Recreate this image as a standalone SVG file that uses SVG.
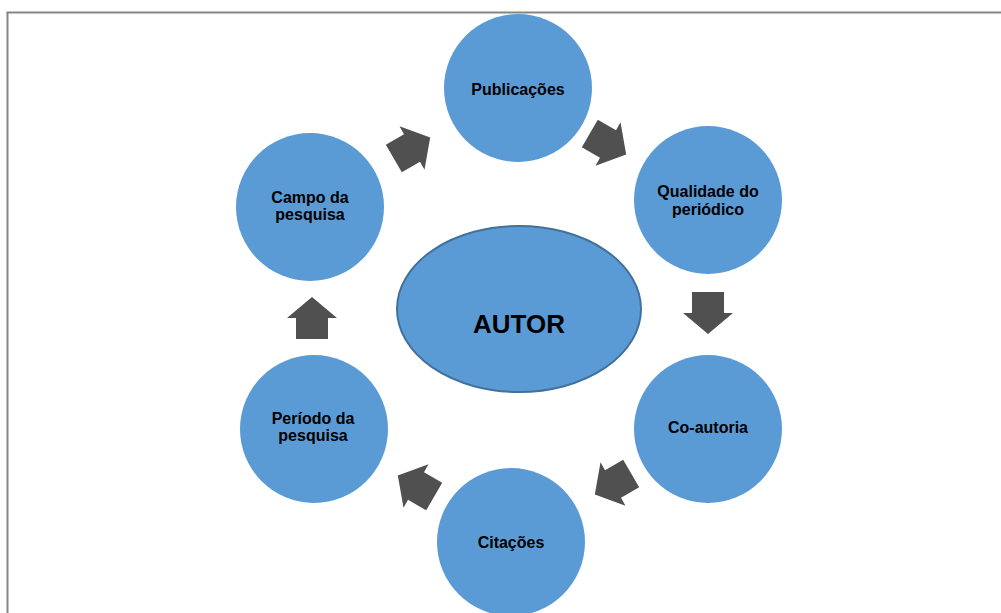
<svg xmlns="http://www.w3.org/2000/svg" width="1001" height="613" viewBox="0 0 1001 613">
<defs>
<style>
.node{fill:#5B9BD5}
.lbl{font-family:"Liberation Sans",Arial,sans-serif;font-weight:bold;font-size:16px;fill:#000;text-anchor:middle}
.big{font-family:"Liberation Sans",Arial,sans-serif;font-weight:bold;font-size:26px;fill:#000;text-anchor:middle}
.arr{fill:#505050}
</style>
<path id="arrow" d="M-21,-16 L0,-16 L0,-25 L21,0 L0,25 L0,16 L-21,16 Z"/>
</defs>
<rect width="1001" height="613" fill="#fff"/>
<g id="frame" fill="none" stroke="#858585" stroke-width="2">
<line x1="7.5" y1="12" x2="7.5" y2="613"/>
<line x1="6.5" y1="12.5" x2="1001" y2="12.5"/>
</g>
<g id="connectors" class="arr">
<use href="#arrow" transform="translate(412,148) rotate(-30)"/>
<use href="#arrow" transform="translate(608,144) rotate(30)"/>
<use href="#arrow" transform="translate(708,313) rotate(90)"/>
<use href="#arrow" transform="translate(613,484) rotate(150)"/>
<use href="#arrow" transform="translate(416,486) rotate(210)"/>
<use href="#arrow" transform="translate(312,318) rotate(270)"/>
</g>
<g id="autor">
<ellipse cx="519" cy="309" rx="122" ry="83" fill="#5B9BD5" stroke="#41719C" stroke-width="2"/>
<text class="big" x="519" y="333">AUTOR</text>
</g>
<g id="publicacoes">
<circle class="node" cx="518" cy="88" r="74"/>
<text class="lbl" x="518" y="95">Publicações</text>
</g>
<g id="qualidade">
<circle class="node" cx="708" cy="200" r="74"/>
<text class="lbl" x="708" y="197">Qualidade do</text>
<text class="lbl" x="708" y="215">periódico</text>
</g>
<g id="coautoria">
<circle class="node" cx="708" cy="429" r="74"/>
<text class="lbl" x="708" y="433">Co-autoria</text>
</g>
<g id="citacoes">
<circle class="node" cx="511" cy="542" r="74"/>
<text class="lbl" x="511" y="548">Citações</text>
</g>
<g id="periodo">
<circle class="node" cx="314" cy="429" r="74"/>
<text class="lbl" x="313" y="424">Período da</text>
<text class="lbl" x="313" y="441">pesquisa</text>
</g>
<g id="campo">
<circle class="node" cx="310" cy="207" r="74"/>
<text class="lbl" x="310" y="203">Campo da</text>
<text class="lbl" x="310" y="220">pesquisa</text>
</g>
</svg>
